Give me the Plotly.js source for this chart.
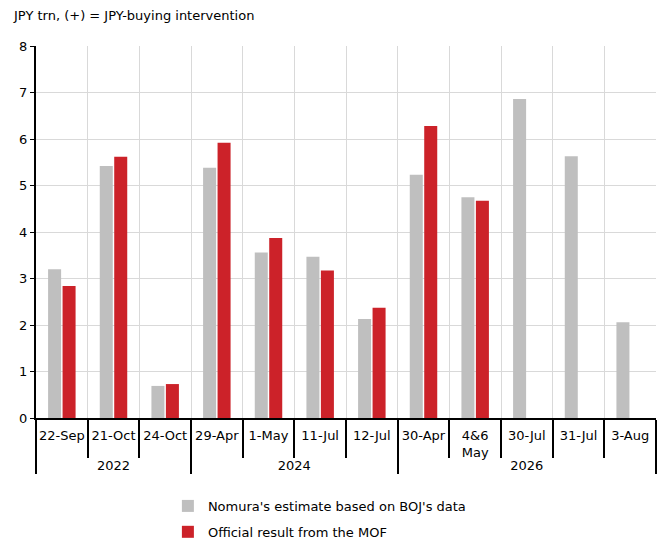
<!DOCTYPE html>
<html>
<head>
<meta charset="utf-8">
<script src="https://cdn.plot.ly/plotly-3.0.1.min.js"></script>
<style>html,body{margin:0;padding:0;background:#fff;}#chart{width:661px;height:544px;}</style>
</head>
<body>
<div id="chart"></div>
<script>
var years = ["2022","2022","2022","2024","2024","2024","2024","2026","2026","2026","2026","2026"];
var dates = ["22-Sep","21-Oct","24-Oct","29-Apr","1-May","11-Jul","12-Jul","30-Apr","4&6<br>May","30-Jul","31-Jul","3-Aug"];
var nomuraEstimate = [3.20, 5.42, 0.69, 5.38, 3.56, 3.47, 2.13, 5.23, 4.75, 6.86, 5.63, 2.06];
var mofOfficial = [2.84, 5.62, 0.73, 5.92, 3.87, 3.17, 2.37, 6.28, 4.67, null, null, null];

var font = "DejaVu Sans, Verdana, sans-serif";
var data = [
  {type:"bar", name:"Nomura's estimate based on BOJ's data", x:[years, dates], y:nomuraEstimate,
   marker:{color:"#BFBFBF"}, legendgroup:"a", hoverinfo:"y"},
  {type:"bar", name:"Official result from the MOF", x:[years, dates], y:mofOfficial,
   marker:{color:"#CC2229"}, legendgroup:"b", hoverinfo:"y"}
];
var layout = {
  width:661, height:544,
  margin:{l:36, r:5, t:46, b:126, autoexpand:false},
  paper_bgcolor:"#fff", plot_bgcolor:"#fff",
  font:{family:font, size:13, color:"#000"},
  barmode:"group", bargap:0.44, bargroupgap:0.1,
  showlegend:true,
  legend:{orientation:"v", xref:"container", yref:"container", x:0.254, xanchor:"left",
          y:0.0975, yanchor:"top",
          font:{family:font, size:13, color:"#000"}, itemwidth:30, tracegroupgap:6},
  annotations:[{text:"JPY trn, (+) = JPY-buying intervention", xref:"paper", yref:"paper",
     x:-0.04, xanchor:"left", y:1.081, yanchor:"middle", showarrow:false,
     font:{family:font, size:13, color:"#000"}}],
  xaxis:{type:"multicategory", showgrid:true, gridcolor:"#D9D9D9", gridwidth:1,
         tickson:"boundaries", ticks:"outside", ticklen:38, tickwidth:2, tickcolor:"#000",
         tickangle:0, ticklabelstandoff:4, automargin:false,
         showline:true, linecolor:"#000", linewidth:2,
         showdividers:true, dividercolor:"#000", dividerwidth:2,
         tickfont:{family:font, size:13, color:"#000"}, fixedrange:true},
  yaxis:{range:[0,8], dtick:1, showgrid:true, gridcolor:"#D9D9D9", gridwidth:1,
         showline:true, linecolor:"#000", linewidth:2, ticks:"outside", ticklen:4,
         tickwidth:1, tickcolor:"#000", zeroline:false, automargin:false,
         tickfont:{family:font, size:13, color:"#000"}, fixedrange:true}
};
Plotly.newPlot("chart", data, layout, {displayModeBar:false, staticPlot:true});
</script>
</body>
</html>
